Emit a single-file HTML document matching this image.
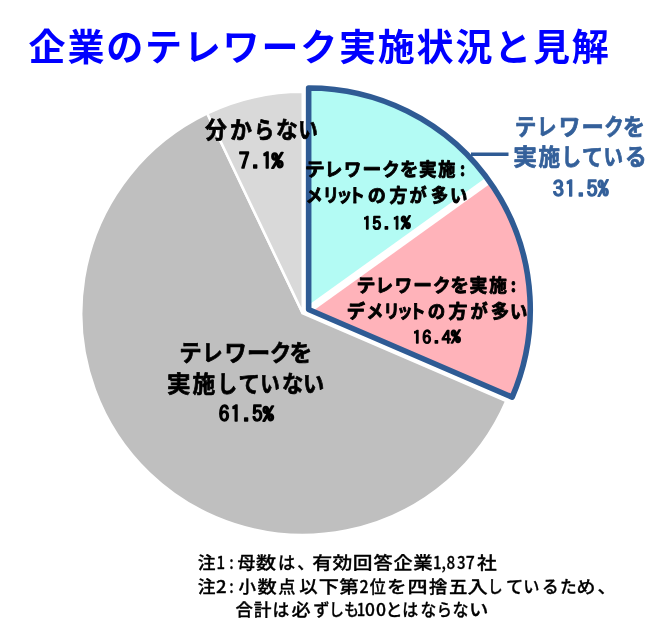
<!DOCTYPE html>
<html lang="ja"><head><meta charset="utf-8"><title>企業のテレワーク実施状況と見解</title>
<style>
html,body{margin:0;padding:0;background:#fff;}
body{width:650px;height:637px;overflow:hidden;}
svg{display:block;}
text{font-family:"Liberation Sans","Noto Sans CJK JP",sans-serif;}
</style></head><body>
<svg width="650" height="637" viewBox="0 0 650 637">
<rect width="650" height="637" fill="#fff"/>
<path d="M302.80,313.40 L506.35,401.01 A221.6,221.6 0 1 1 207.28,113.44 Z" fill="#BFBFBF" stroke="#fff" stroke-width="2.6" stroke-linejoin="miter"/>
<path d="M302.80,313.40 L207.28,113.44 A221.6,221.6 0 0 1 302.80,91.80 Z" fill="#D9D9D9" stroke="#fff" stroke-width="2.6" stroke-linejoin="miter"/>
<path d="M308.65,309.55 L308.65,87.95 A221.6,221.6 0 0 1 488.62,180.26 Z" fill="#B3FBF4"/>
<path d="M308.65,309.55 L488.62,180.26 A221.6,221.6 0 0 1 512.19,397.16 Z" fill="#FFB3BA"/>
<line x1="308.65" y1="309.55" x2="488.62" y2="180.26" stroke="#fff" stroke-width="7.5"/>
<path d="M308.65,309.55 L308.65,87.95 A221.6,221.6 0 0 1 512.19,397.16 Z" fill="none" stroke="#2F5B94" stroke-width="5.6" stroke-linejoin="round"/>
<line x1="471" y1="154.3" x2="508.5" y2="154.3" stroke="#2F5B94" stroke-width="3.5"/>
<text x="28.6" y="61.1" font-size="37" font-weight="700" fill="#0000FF" letter-spacing="1.8">企業のテレワーク実施状況と見解</text>
<text y="137.9" font-size="23" font-weight="700" fill="#000" stroke="#000" stroke-width="0.7" stroke-linejoin="round" style="font-family:'Noto Sans CJK JP',sans-serif"><tspan x="205.1" textLength="21.82" lengthAdjust="spacingAndGlyphs">分</tspan><tspan x="230.1" textLength="21.92" lengthAdjust="spacingAndGlyphs">か</tspan><tspan x="254.2" textLength="19.92" lengthAdjust="spacingAndGlyphs">ら</tspan><tspan x="275.9" textLength="21.83" lengthAdjust="spacingAndGlyphs">な</tspan><tspan x="298.3" textLength="19.55" lengthAdjust="spacingAndGlyphs">い</tspan></text>
<text font-size="21.6" fill="#000" stroke="#000" stroke-width="1.5" stroke-linejoin="round" style="font-family:'IPAGothic','Noto Sans CJK JP',monospace"><tspan x="238.70 251.78 261.61" y="169.31 168.34 169.31">7.1</tspan><tspan x="271.60" y="167.26" font-size="17.52" textLength="11.82" lengthAdjust="spacingAndGlyphs">%</tspan></text>
<text y="176.3" font-size="18.5" font-weight="700" fill="#000" stroke="#000" stroke-width="0.9" stroke-linejoin="round" style="font-family:'Noto Sans CJK JP',sans-serif"><tspan x="305.0" textLength="19.83" lengthAdjust="spacingAndGlyphs">テ</tspan><tspan x="324.7" textLength="17.57" lengthAdjust="spacingAndGlyphs">レ</tspan><tspan x="343.9" textLength="17.30" lengthAdjust="spacingAndGlyphs">ワ</tspan><tspan x="362.5" textLength="18.77" lengthAdjust="spacingAndGlyphs">ー</tspan><tspan x="382.3" textLength="17.49" lengthAdjust="spacingAndGlyphs">ク</tspan><tspan x="400.0" textLength="18.29" lengthAdjust="spacingAndGlyphs">を</tspan><tspan x="418.9" textLength="17.65" lengthAdjust="spacingAndGlyphs">実</tspan><tspan x="438.3" textLength="17.14" lengthAdjust="spacingAndGlyphs">施</tspan><tspan x="460.1" textLength="5.15" lengthAdjust="spacingAndGlyphs">:</tspan></text>
<text y="202.0" font-size="18.5" font-weight="700" fill="#000" stroke="#000" stroke-width="0.9" stroke-linejoin="round" style="font-family:'Noto Sans CJK JP',sans-serif"><tspan x="305.7" textLength="16.93" lengthAdjust="spacingAndGlyphs">メ</tspan><tspan x="322.7" textLength="16.26" lengthAdjust="spacingAndGlyphs">リ</tspan><tspan x="336.5" textLength="15.72" lengthAdjust="spacingAndGlyphs">ッ</tspan><tspan x="348.7" textLength="16.11" lengthAdjust="spacingAndGlyphs">ト</tspan><tspan x="367.8" textLength="18.08" lengthAdjust="spacingAndGlyphs">の</tspan><tspan x="389.4" textLength="17.84" lengthAdjust="spacingAndGlyphs">方</tspan><tspan x="409.6" textLength="17.19" lengthAdjust="spacingAndGlyphs">が</tspan><tspan x="431.0" textLength="17.21" lengthAdjust="spacingAndGlyphs">多</tspan><tspan x="450.1" textLength="17.34" lengthAdjust="spacingAndGlyphs">い</tspan></text>
<text font-size="18.2" fill="#000" stroke="#000" stroke-width="1.3" stroke-linejoin="round" style="font-family:'IPAGothic','Noto Sans CJK JP',monospace"><tspan x="362.60 372.29 383.61 392.21" y="229.88 229.88 229.06 229.88">15.1</tspan><tspan x="401.08" y="228.14" font-size="14.84" textLength="9.65" lengthAdjust="spacingAndGlyphs">%</tspan></text>
<text y="292.2" font-size="18.5" font-weight="700" fill="#000" stroke="#000" stroke-width="0.9" stroke-linejoin="round" style="font-family:'Noto Sans CJK JP',sans-serif"><tspan x="356.5" textLength="19.00" lengthAdjust="spacingAndGlyphs">テ</tspan><tspan x="375.5" textLength="17.57" lengthAdjust="spacingAndGlyphs">レ</tspan><tspan x="394.7" textLength="17.30" lengthAdjust="spacingAndGlyphs">ワ</tspan><tspan x="413.3" textLength="18.77" lengthAdjust="spacingAndGlyphs">ー</tspan><tspan x="433.0" textLength="17.49" lengthAdjust="spacingAndGlyphs">ク</tspan><tspan x="450.6" textLength="18.41" lengthAdjust="spacingAndGlyphs">を</tspan><tspan x="469.4" textLength="17.87" lengthAdjust="spacingAndGlyphs">実</tspan><tspan x="489.2" textLength="17.67" lengthAdjust="spacingAndGlyphs">施</tspan><tspan x="510.8" textLength="5.33" lengthAdjust="spacingAndGlyphs">:</tspan></text>
<text y="317.5" font-size="18.5" font-weight="700" fill="#000" stroke="#000" stroke-width="0.9" stroke-linejoin="round" style="font-family:'Noto Sans CJK JP',sans-serif"><tspan x="346.8" textLength="18.34" lengthAdjust="spacingAndGlyphs">デ</tspan><tspan x="366.5" textLength="16.93" lengthAdjust="spacingAndGlyphs">メ</tspan><tspan x="383.5" textLength="16.09" lengthAdjust="spacingAndGlyphs">リ</tspan><tspan x="396.9" textLength="15.72" lengthAdjust="spacingAndGlyphs">ッ</tspan><tspan x="409.4" textLength="16.11" lengthAdjust="spacingAndGlyphs">ト</tspan><tspan x="427.8" textLength="17.50" lengthAdjust="spacingAndGlyphs">の</tspan><tspan x="448.4" textLength="18.92" lengthAdjust="spacingAndGlyphs">方</tspan><tspan x="470.4" textLength="17.19" lengthAdjust="spacingAndGlyphs">が</tspan><tspan x="491.0" textLength="18.11" lengthAdjust="spacingAndGlyphs">多</tspan><tspan x="510.1" textLength="17.34" lengthAdjust="spacingAndGlyphs">い</tspan></text>
<text font-size="18.2" fill="#000" stroke="#000" stroke-width="1.3" stroke-linejoin="round" style="font-family:'IPAGothic','Noto Sans CJK JP',monospace"><tspan x="412.60 422.29 433.61 441.66" y="343.78 343.78 342.96 343.78">16.4</tspan><tspan x="451.08" y="342.05" font-size="14.73" textLength="9.65" lengthAdjust="spacingAndGlyphs">%</tspan></text>
<text y="361.0" font-size="23" font-weight="700" fill="#000" stroke="#000" stroke-width="0.7" stroke-linejoin="round" style="font-family:'Noto Sans CJK JP',sans-serif"><tspan x="179.3" textLength="22.45" lengthAdjust="spacingAndGlyphs">テ</tspan><tspan x="202.2" textLength="20.44" lengthAdjust="spacingAndGlyphs">レ</tspan><tspan x="224.6" textLength="22.22" lengthAdjust="spacingAndGlyphs">ワ</tspan><tspan x="247.1" textLength="23.19" lengthAdjust="spacingAndGlyphs">ー</tspan><tspan x="270.0" textLength="21.23" lengthAdjust="spacingAndGlyphs">ク</tspan><tspan x="289.5" textLength="22.74" lengthAdjust="spacingAndGlyphs">を</tspan></text>
<text y="392.0" font-size="23" font-weight="700" fill="#000" stroke="#000" stroke-width="0.7" stroke-linejoin="round" style="font-family:'Noto Sans CJK JP',sans-serif"><tspan x="167.1" textLength="23.57" lengthAdjust="spacingAndGlyphs">実</tspan><tspan x="192.5" textLength="22.71" lengthAdjust="spacingAndGlyphs">施</tspan><tspan x="217.6" textLength="19.55" lengthAdjust="spacingAndGlyphs">し</tspan><tspan x="238.6" textLength="21.50" lengthAdjust="spacingAndGlyphs">て</tspan><tspan x="260.3" textLength="19.55" lengthAdjust="spacingAndGlyphs">い</tspan><tspan x="282.0" textLength="21.27" lengthAdjust="spacingAndGlyphs">な</tspan><tspan x="303.1" textLength="21.17" lengthAdjust="spacingAndGlyphs">い</tspan></text>
<text font-size="21.3" fill="#000" stroke="#000" stroke-width="1.5" stroke-linejoin="round" style="font-family:'IPAGothic','Noto Sans CJK JP',monospace"><tspan x="218.73 230.44 242.79 251.95" y="422.10 422.10 421.14 422.10">61.5</tspan><tspan x="262.83" y="420.10" font-size="16.85" textLength="11.06" lengthAdjust="spacingAndGlyphs">%</tspan></text>
<text y="135.0" font-size="23" font-weight="700" fill="#34609A" stroke="#34609A" stroke-width="0.7" stroke-linejoin="round" style="font-family:'Noto Sans CJK JP',sans-serif"><tspan x="514.7" textLength="21.62" lengthAdjust="spacingAndGlyphs">テ</tspan><tspan x="537.0" textLength="19.55" lengthAdjust="spacingAndGlyphs">レ</tspan><tspan x="558.8" textLength="21.59" lengthAdjust="spacingAndGlyphs">ワ</tspan><tspan x="581.4" textLength="22.33" lengthAdjust="spacingAndGlyphs">ー</tspan><tspan x="604.3" textLength="19.55" lengthAdjust="spacingAndGlyphs">ク</tspan><tspan x="623.1" textLength="22.02" lengthAdjust="spacingAndGlyphs">を</tspan></text>
<text y="165.0" font-size="23" font-weight="700" fill="#34609A" stroke="#34609A" stroke-width="0.7" stroke-linejoin="round" style="font-family:'Noto Sans CJK JP',sans-serif"><tspan x="513.2" textLength="23.68" lengthAdjust="spacingAndGlyphs">実</tspan><tspan x="538.4" textLength="21.56" lengthAdjust="spacingAndGlyphs">施</tspan><tspan x="561.4" textLength="19.55" lengthAdjust="spacingAndGlyphs">し</tspan><tspan x="582.0" textLength="21.01" lengthAdjust="spacingAndGlyphs">て</tspan><tspan x="603.5" textLength="19.55" lengthAdjust="spacingAndGlyphs">い</tspan><tspan x="625.0" textLength="21.65" lengthAdjust="spacingAndGlyphs">る</tspan></text>
<text font-size="22.4" fill="#34609A" stroke="#34609A" stroke-width="1.5" stroke-linejoin="round" style="font-family:'IPAGothic','Noto Sans CJK JP',monospace"><tspan x="552.85 564.72 577.27 586.45" y="196.75 196.75 195.74 196.75">31.5</tspan><tspan x="597.84" y="194.60" font-size="18.42" textLength="10.85" lengthAdjust="spacingAndGlyphs">%</tspan></text>
<text y="569.1" font-size="17.6" font-weight="500" fill="#000" stroke="#000" stroke-width="0.3" stroke-linejoin="round" style="font-family:'Noto Sans CJK JP',sans-serif"><tspan x="197.7" textLength="17.79" lengthAdjust="spacingAndGlyphs">注</tspan><tspan x="216.4" textLength="8.53" lengthAdjust="spacingAndGlyphs">1</tspan><tspan x="229.2" textLength="4.46" lengthAdjust="spacingAndGlyphs">:</tspan><tspan x="237.6" textLength="17.79" lengthAdjust="spacingAndGlyphs">母</tspan><tspan x="256.1" textLength="20.06" lengthAdjust="spacingAndGlyphs">数</tspan><tspan x="277.9" textLength="17.16" lengthAdjust="spacingAndGlyphs">は</tspan><tspan x="297.3" textLength="17.16" lengthAdjust="spacingAndGlyphs">、</tspan><tspan x="312.2" textLength="20.00" lengthAdjust="spacingAndGlyphs">有</tspan><tspan x="332.4" textLength="19.85" lengthAdjust="spacingAndGlyphs">効</tspan><tspan x="352.8" textLength="19.72" lengthAdjust="spacingAndGlyphs">回</tspan><tspan x="373.5" textLength="19.16" lengthAdjust="spacingAndGlyphs">答</tspan><tspan x="393.5" textLength="19.14" lengthAdjust="spacingAndGlyphs">企</tspan><tspan x="413.3" textLength="19.42" lengthAdjust="spacingAndGlyphs">業</tspan><tspan x="432.9" textLength="8.53" lengthAdjust="spacingAndGlyphs">1</tspan><tspan x="441.6" textLength="4.46" lengthAdjust="spacingAndGlyphs">,</tspan><tspan x="446.4" textLength="8.71" lengthAdjust="spacingAndGlyphs">8</tspan><tspan x="456.9" textLength="8.56" lengthAdjust="spacingAndGlyphs">3</tspan><tspan x="465.8" textLength="9.04" lengthAdjust="spacingAndGlyphs">7</tspan><tspan x="477.1" textLength="19.75" lengthAdjust="spacingAndGlyphs">社</tspan></text>
<text y="592.6" font-size="17.6" font-weight="500" fill="#000" stroke="#000" stroke-width="0.3" stroke-linejoin="round" style="font-family:'Noto Sans CJK JP',sans-serif"><tspan x="197.7" textLength="17.79" lengthAdjust="spacingAndGlyphs">注</tspan><tspan x="215.9" textLength="10.64" lengthAdjust="spacingAndGlyphs">2</tspan><tspan x="229.2" textLength="4.46" lengthAdjust="spacingAndGlyphs">:</tspan><tspan x="238.5" textLength="17.54" lengthAdjust="spacingAndGlyphs">小</tspan><tspan x="257.6" textLength="19.22" lengthAdjust="spacingAndGlyphs">数</tspan><tspan x="278.3" textLength="17.25" lengthAdjust="spacingAndGlyphs">点</tspan><tspan x="299.2" textLength="18.43" lengthAdjust="spacingAndGlyphs">以</tspan><tspan x="318.7" textLength="20.27" lengthAdjust="spacingAndGlyphs">下</tspan><tspan x="339.2" textLength="19.50" lengthAdjust="spacingAndGlyphs">第</tspan><tspan x="359.5" textLength="9.11" lengthAdjust="spacingAndGlyphs">2</tspan><tspan x="369.7" textLength="16.05" lengthAdjust="spacingAndGlyphs">位</tspan><tspan x="387.0" textLength="19.58" lengthAdjust="spacingAndGlyphs">を</tspan><tspan x="407.6" textLength="20.05" lengthAdjust="spacingAndGlyphs">四</tspan><tspan x="428.9" textLength="18.27" lengthAdjust="spacingAndGlyphs">捨</tspan><tspan x="449.1" textLength="18.48" lengthAdjust="spacingAndGlyphs">五</tspan><tspan x="467.5" textLength="20.26" lengthAdjust="spacingAndGlyphs">入</tspan><tspan x="487.7" textLength="14.96" lengthAdjust="spacingAndGlyphs">し</tspan><tspan x="506.1" textLength="17.29" lengthAdjust="spacingAndGlyphs">て</tspan><tspan x="523.3" textLength="16.24" lengthAdjust="spacingAndGlyphs">い</tspan><tspan x="542.0" textLength="16.60" lengthAdjust="spacingAndGlyphs">る</tspan><tspan x="560.0" textLength="16.71" lengthAdjust="spacingAndGlyphs">た</tspan><tspan x="576.4" textLength="18.95" lengthAdjust="spacingAndGlyphs">め</tspan><tspan x="597.5" textLength="18.81" lengthAdjust="spacingAndGlyphs">、</tspan></text>
<text y="615.9" font-size="17.6" font-weight="500" fill="#000" stroke="#000" stroke-width="0.3" stroke-linejoin="round" style="font-family:'Noto Sans CJK JP',sans-serif"><tspan x="235.5" textLength="17.46" lengthAdjust="spacingAndGlyphs">合</tspan><tspan x="253.7" textLength="17.77" lengthAdjust="spacingAndGlyphs">計</tspan><tspan x="272.6" textLength="16.80" lengthAdjust="spacingAndGlyphs">は</tspan><tspan x="291.6" textLength="19.11" lengthAdjust="spacingAndGlyphs">必</tspan><tspan x="313.3" textLength="16.25" lengthAdjust="spacingAndGlyphs">ず</tspan><tspan x="328.9" textLength="14.96" lengthAdjust="spacingAndGlyphs">し</tspan><tspan x="343.9" textLength="14.96" lengthAdjust="spacingAndGlyphs">も</tspan><tspan x="356.7" textLength="8.53" lengthAdjust="spacingAndGlyphs">1</tspan><tspan x="365.1" textLength="9.94" lengthAdjust="spacingAndGlyphs">0</tspan><tspan x="376.0" textLength="10.06" lengthAdjust="spacingAndGlyphs">0</tspan><tspan x="385.4" textLength="17.13" lengthAdjust="spacingAndGlyphs">と</tspan><tspan x="402.3" textLength="15.98" lengthAdjust="spacingAndGlyphs">は</tspan><tspan x="420.4" textLength="15.83" lengthAdjust="spacingAndGlyphs">な</tspan><tspan x="436.8" textLength="15.13" lengthAdjust="spacingAndGlyphs">ら</tspan><tspan x="452.6" textLength="16.07" lengthAdjust="spacingAndGlyphs">な</tspan><tspan x="469.1" textLength="19.43" lengthAdjust="spacingAndGlyphs">い</tspan></text>
</svg>
</body></html>
